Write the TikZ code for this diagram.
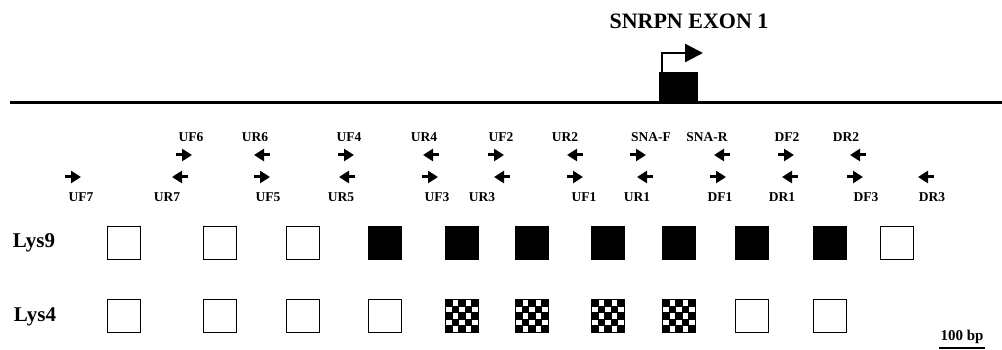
\documentclass[tikz,border=0pt]{standalone}
\usepackage{fontspec}
\setmainfont{Liberation Serif}
\usetikzlibrary{arrows.meta, positioning}

\tikzset{
  lbl/.style={font=\bfseries\fontsize{13.5}{13.5}\selectfont, inner sep=0pt},
  big/.style={font=\bfseries\fontsize{21}{21}\selectfont, inner sep=0pt},
  primer/.style={line width=3pt, -{Triangle[length=10pt,width=12pt]}},
  cpg/.style={rectangle, draw, line width=1.8pt, minimum size=33pt, inner sep=0pt},
  open/.style={cpg, fill=white},
  meth/.style={cpg, fill=black},
  part/.style={cpg, fill=black, path picture={
      \foreach \i in {0,...,4}{\foreach \j in {0,...,4}{
        \pgfmathtruncatemacro\k{mod(\i+\j,2)}
        \ifnum\k=1
          \fill[white] ([shift={(\i*6.6+0.5,\j*6.6+0.5)}]path picture bounding box.north west) rectangle ++(5.6,5.6);
        \fi}}}}
}

\begin{document}
\begin{tikzpicture}[x=1pt, y=-1pt]
  \useasboundingbox (0,0) rectangle (1002,350);

  \node[font=\bfseries\fontsize{22}{22}\selectfont, inner sep=0pt] (snrpn) at (689,21) {SNRPN EXON 1};
  \coordinate (chrL) at (10,103);
  \coordinate (chrR) at (1002,103);
  \draw[line width=3pt] (chrL) -- (chrR);
  \node[fill=black, minimum width=39pt, minimum height=32pt, inner sep=0pt, anchor=south] (exon) at (678.5,104) {};
  \coordinate (tss) at (703,53);
  \draw[line width=2.5pt, -{Triangle[length=18pt,width=18pt]}] ([xshift=3pt]exon.north west) |- (tss);

  \foreach \x/\lx/\n/\d in {184/191/UF6/1, 262/255/UR6/-1, 346/349/UF4/1, 431/424/UR4/-1,
      496/501/UF2/1, 575/565/UR2/-1, 638/651/SNA-F/1, 722/707/SNA-R/-1, 786/787/DF2/1, 858/846/DR2/-1}{
    \node[lbl] (\n) at (\lx,137) {\n};
    \draw[primer] ({\x-8*(\d)},155) -- ({\x+8*(\d)},155);
  }
  \foreach \x/\lx/\n/\d in {73/81/UF7/1, 180/167/UR7/-1, 262/268/UF5/1, 347/341/UR5/-1,
      430/437/UF3/1, 502/482/UR3/-1, 575/584/UF1/1, 645/637/UR1/-1, 718/720/DF1/1,
      790/782/DR1/-1, 855/866/DF3/1, 926/932/DR3/-1}{
    \node[lbl] (\n) at (\lx,197) {\n};
    \draw[primer] ({\x-8*(\d)},177) -- ({\x+8*(\d)},177);
  }

  \node[big] (lys9) at (34,243) {Lys9};
  \node[big] (lys4) at (35,317) {Lys4};
  \foreach \x/\s [count=\i] in {124/open, 220/open, 303/open, 385/meth, 462/meth, 532/meth,
      608/meth, 679/meth, 752/meth, 830/meth, 897/open}
    \node[\s] (a\i) at (\x,243) {};
  \foreach \x/\s [count=\i] in {124/open, 220/open, 303/open, 385/open, 462/part, 532/part,
      608/part, 679/part, 752/open, 830/open}
    \node[\s] (b\i) at (\x,316) {};

  \node[font=\bfseries\fontsize{15}{15}\selectfont, inner sep=0pt] (bp) at (962,337) {100 bp};
  \coordinate (barL) at (939,348);
  \coordinate (barR) at (985,348);
  \draw[line width=1.3pt] (barL) -- (barR);
\end{tikzpicture}
\end{document}
